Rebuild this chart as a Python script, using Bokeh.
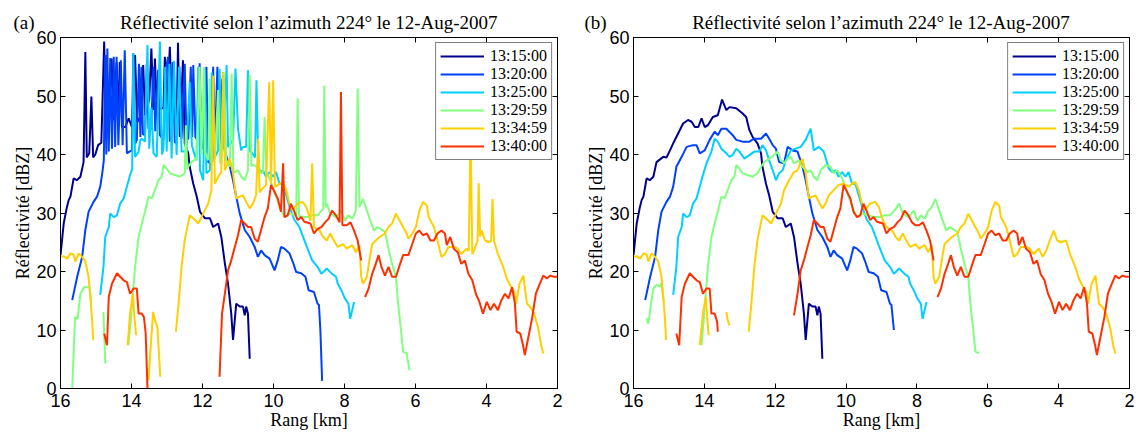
import math
from bokeh.plotting import figure
from bokeh.models import Range1d, LinearAxis, Legend, LegendItem, FixedTicker, ColumnDataSource
from bokeh.layouts import row
from bokeh.embed import file_html
from bokeh.resources import INLINE

TIMES = ["13:15:00", "13:20:00", "13:25:00", "13:29:59", "13:34:59", "13:40:00"]
COLORS = ["#00008F", "#0040FF", "#00CFFF", "#80FF80", "#FFCF00", "#FF3000"]
X_TICKS = [16, 14, 12, 10, 8, 6, 4, 2]
Y_TICKS = [0, 10, 20, 30, 40, 50, 60]
TITLE = "Réflectivité selon l’azimuth 224° le 12-Aug-2007"
TAGS = ["(a)", "(b)"]
X_LABEL = "Rang [km]"
Y_LABEL = "Réflectivité [dBZ]"

# ---------------- panel (b): filtered profiles (range km, dBZ); None = gap ----------------
B_1315 = [(16.00,22.8),(15.91,28.2),(15.82,31.0),(15.77,32.2),(15.72,32.8),(15.63,35.9),(15.54,35.6),(15.44,36.2),(15.35,38.7),(15.16,39.6),(15.07,39.5),(14.97,40.7),(14.88,41.9),(14.79,43.0),(14.60,45.3),(14.46,45.9),(14.36,45.6),(14.27,44.7),(14.17,44.7),(14.08,46.2),(13.99,44.7),(13.90,45.0),(13.76,46.4),(13.62,46.7),(13.50,49.4),(13.38,47.6),(13.29,48.1),(13.10,47.9),(12.92,47.0),(12.82,46.4),(12.73,44.2),(12.64,43.0),(12.50,41.9),(12.40,40.2),(12.36,37.9),(12.26,35.0),(12.17,33.0),(12.07,30.2),(11.93,29.1),(11.79,29.1),(11.70,27.6),(11.56,28.2),(11.47,25.9),(11.37,21.4),(11.28,17.9),(11.19,12.8),(11.14,8.3),(11.05,14.5),(10.95,14.0),(10.86,14.0),(10.81,12.5),(10.77,14.0),(10.72,12.8),(10.67,5.1)]
B_1320 = [(15.67,15.1),(15.53,19.1),(15.39,22.5),(15.30,27.1),(15.21,30.2),(15.07,31.9),(14.97,32.8),(14.88,34.5),(14.79,37.9),(14.64,39.6),(14.50,41.3),(14.32,41.6),(14.22,41.6),(14.13,40.2),(13.99,40.7),(13.85,42.5),(13.71,43.9),(13.62,43.3),(13.52,44.4),(13.38,44.4),(13.20,43.3),(13.10,42.5),(12.92,42.2),(12.73,42.2),(12.59,42.7),(12.40,42.7),(12.26,43.6),(12.17,42.7),(12.07,41.6),(11.98,41.0),(11.89,38.7),(11.75,38.5),(11.65,41.3),(11.51,40.7),(11.37,40.5),(11.23,37.9),(11.14,35.6),(11.05,32.8),(10.95,29.9),(10.81,27.1),(10.67,25.9),(10.53,24.2),(10.44,22.5),(10.35,23.6),(10.25,22.8),(10.11,22.2),(9.97,20.2),(9.88,21.9),(9.79,24.2),(9.69,23.9),(9.55,23.1),(9.46,21.7),(9.36,19.9),(9.22,19.7),(9.10,19.1),(9.01,16.8),(8.86,16.5),(8.76,14.5),(8.72,14.3),(8.65,10.0)]
B_1325 = [(14.88,16.0),(14.79,20.8),(14.74,25.9),(14.64,27.6),(14.60,29.9),(14.55,29.6),(14.50,29.3),(14.41,29.6),(14.32,31.6),(14.22,32.5),(14.13,34.5),(14.04,36.5),(13.94,38.5),(13.80,40.5),(13.71,42.7),(13.62,42.2),(13.52,41.0),(13.38,40.2),(13.29,39.6),(13.20,39.9),(13.10,41.0),(13.01,40.5),(12.87,39.3),(12.73,39.9),(12.59,40.5),(12.45,40.5),(12.36,41.6),(12.26,40.7),(12.17,39.0),(12.07,37.3),(11.98,35.6),(11.89,36.8),(11.79,37.3),(11.70,39.0),(11.56,40.7),(11.42,41.0),(11.28,41.3),(11.14,42.5),(11.00,44.4),(10.91,40.7),(10.77,41.3),(10.63,40.5),(10.49,37.6),(10.39,37.0),(10.30,37.3),(10.21,36.2),(10.11,37.0),(10.02,36.2),(9.93,37.0),(9.83,35.0),(9.74,35.0),(9.64,33.0),(9.55,31.1),(9.41,28.8),(9.27,27.6),(9.08,24.5),(8.91,21.9),(8.76,20.8),(8.65,19.6),(8.50,20.5),(8.35,19.6),(8.24,19.1),(8.19,17.9),(8.09,16.8),(7.99,15.4),(7.89,14.5),(7.84,11.9),(7.73,14.8)]
B_1330 = [(15.63,12.0),(15.58,11.1),(15.49,15.1),(15.44,17.1),(15.35,17.7),(15.25,17.4),(15.21,18.0),(15.15,15.0),None,
          (14.08,7.4),(14.02,11.7),(13.96,16.2),(13.90,20.8),(13.80,25.9),(13.71,28.2),(13.62,30.2),(13.52,32.8),(13.43,32.5),(13.34,33.9),(13.24,35.6),(13.15,36.2),(13.10,38.2),(13.01,37.6),(12.92,36.8),(12.78,36.5),(12.64,36.2),(12.50,36.8),(12.40,37.9),(12.31,38.7),(12.17,39.3),(12.03,39.9),(11.93,40.5),(11.84,39.0),(11.75,38.5),(11.65,39.3),(11.56,39.6),(11.47,38.5),(11.33,39.0),(11.23,37.9),(11.09,37.0),(11.00,37.3),(10.91,36.2),(10.81,35.6),(10.72,37.3),(10.58,38.2),(10.44,37.9),(10.35,36.8),(10.25,37.3),(10.11,35.9),(10.02,34.5),(9.93,32.8),(9.79,30.5),(9.69,29.3),(9.55,29.9),(9.36,29.6),(9.18,29.3),(9.06,29.3),(8.91,29.6),(8.76,29.6),(8.60,30.7),(8.50,31.6),(8.40,29.9),(8.24,29.3),(8.09,30.4),(7.99,28.7),(7.89,29.6),(7.78,29.0),(7.68,30.4),(7.58,31.0),(7.48,32.4),(7.37,30.4),(7.27,28.7),(7.17,27.0),(7.07,27.6),(6.91,27.0),(6.86,26.8),(6.76,23.9),(6.66,21.3),(6.55,19.1),(6.50,15.1),(6.40,9.4),(6.35,6.3),(6.25,6.0)]
B_1335 = [(16.00,22.5),(15.91,22.6),(15.81,22.2),(15.72,23.1),(15.63,22.9),(15.58,21.7),(15.49,23.1),(15.39,22.5),(15.30,21.7),(15.21,19.1),(15.16,15.7),(15.11,11.7),(15.08,8.3),None,
          (14.13,7.4),(14.04,12.8),(13.96,15.7),(13.92,12.3),(13.88,9.1),None,
          (13.38,13.1),(13.34,11.7),(13.29,10.8),None,
          (12.75,9.7),(12.68,14.0),(12.59,20.8),(12.50,25.4),(12.36,29.6),(12.21,28.8),(12.12,28.2),(11.98,29.9),(11.84,31.6),(11.75,33.9),(11.61,35.6),(11.47,37.0),(11.37,37.3),(11.28,38.7),(11.23,39.3),(11.14,36.8),(11.05,32.5),(10.95,32.8),(10.86,33.0),(10.77,31.9),(10.67,30.8),(10.58,31.6),(10.49,33.0),(10.35,33.9),(10.21,34.8),(10.07,35.0),(9.93,34.5),(9.83,35.0),(9.74,35.3),(9.64,33.9),(9.55,31.6),(9.46,30.5),(9.32,31.6),(9.18,31.9),(9.08,31.1),(8.96,28.7),(8.86,27.6),(8.70,27.0),(8.60,25.9),(8.50,25.3),(8.40,26.5),(8.30,25.3),(8.19,24.2),(8.04,24.7),(7.94,23.9),(7.78,24.5),(7.68,23.3),(7.58,24.5),(7.53,19.1),(7.48,17.9),(7.37,19.1),(7.27,23.0),(7.22,24.7),(7.12,25.3),(7.01,25.9),(6.86,26.5),(6.76,27.6),(6.66,28.2),(6.55,29.9),(6.45,28.7),(6.35,27.6),(6.25,26.5),(6.20,25.6),(6.09,26.5),(5.99,27.6),(5.89,30.4),(5.79,31.9),(5.68,31.3),(5.63,29.3),(5.48,27.6),(5.38,25.3),(5.27,22.5),(5.17,23.0),(5.07,24.2),(4.92,24.2),(4.81,23.9),(4.71,23.0),(4.56,23.9),(4.45,22.5),(4.35,23.6),(4.25,25.3),(4.14,27.0),(4.04,25.3),(3.94,25.0),(3.79,25.3),(3.68,23.0),(3.53,20.8),(3.43,18.8),(3.33,17.6),(3.22,16.5),(3.17,14.5),(3.07,17.9),(2.96,19.3),(2.91,16.8),(2.86,14.5),(2.76,13.9),(2.66,12.8),(2.55,10.5),(2.45,7.1),(2.40,6.0)]
B_1340 = [(14.79,9.4),(14.71,7.4),(14.64,15.7),(14.55,17.9),(14.41,19.7),(14.32,19.1),(14.22,18.5),(14.13,18.2),(14.04,16.2),(13.94,17.1),(13.85,17.1),(13.80,12.8),(13.71,12.8),(13.64,11.4),(13.62,9.7),None,
          (11.47,12.5),(11.37,16.2),(11.28,20.2),(11.19,21.9),(11.09,24.2),(11.00,26.2),(10.91,28.8),(10.81,28.2),(10.72,27.6),(10.63,27.6),(10.53,25.6),(10.44,25.1),(10.35,27.1),(10.25,29.3),(10.16,30.8),(10.07,34.8),(9.97,33.6),(9.88,32.5),(9.79,30.2),(9.69,29.3),(9.60,29.6),(9.51,31.6),(9.41,30.2),(9.32,28.8),(9.22,29.3),(9.13,28.5),(8.96,28.2),(8.86,26.5),(8.76,27.3),(8.65,27.6),(8.55,28.4),(8.45,29.0),(8.35,30.4),(8.24,29.6),(8.14,28.4),(8.04,27.9),(7.94,27.9),(7.83,28.4),(7.73,27.0),(7.63,25.3),(7.53,21.9),None,
          (7.42,15.6),(7.32,17.1),(7.22,19.6),(7.12,21.3),(7.04,22.8),(6.96,20.8),(6.86,19.3),(6.76,20.8),(6.66,19.1),(6.55,19.1),(6.45,21.0),(6.35,22.8),(6.20,22.8),(6.09,24.7),(5.99,26.5),(5.89,27.0),(5.79,26.2),(5.68,26.5),(5.58,25.3),(5.48,25.3),(5.38,26.5),(5.27,27.0),(5.17,26.5),(5.12,24.5),(5.02,25.9),(4.92,23.9),(4.81,23.3),(4.71,21.3),(4.61,21.9),(4.51,19.6),(4.40,18.5),(4.30,16.2),(4.20,14.8),(4.10,12.8),(3.99,14.8),(3.89,13.4),(3.79,14.5),(3.68,13.4),(3.58,15.1),(3.48,16.2),(3.38,15.4),(3.28,17.3),(3.20,14.5),(3.15,9.7),(3.05,9.4),(2.97,7.4),(2.92,5.7),(2.82,8.8),(2.71,12.2),(2.61,16.2),(2.50,17.9),(2.40,19.3),(2.30,18.8),(2.20,19.3),(2.10,19.1),(2.00,19.1)]

# ---------------- panel (a): raw profiles with spikes ----------------
A_1315 = [(16.00,22.8),(15.91,28.2),(15.82,31.0),(15.77,32.2),(15.72,32.8),(15.63,35.9),(15.54,35.6),(15.44,36.2),(15.35,38.7),(15.30,57.5),(15.26,39.5),(15.19,40.2),(15.13,49.9),(15.08,39.5),(15.02,40.0),(14.94,41.6),(14.85,42.0),(14.77,59.3),(14.72,44.0),(14.64,45.0),(14.56,56.4),(14.50,45.9),(14.42,55.8),(14.38,45.6),(14.33,55.8),(14.27,44.7),(14.17,44.7),(14.08,46.2),(13.99,44.7),(13.90,57.0),(13.84,45.5),(13.76,46.4),(13.67,55.3),(13.62,46.7),(13.50,49.4),(13.44,58.1),(13.38,47.6),(13.34,56.4),(13.29,48.1),(13.20,47.9),(13.10,47.9),(13.06,56.7),(13.00,47.5),(12.92,58.4),(12.86,46.8),(12.80,46.0),(12.73,44.2),(12.69,59.1),(12.64,43.0),(12.55,56.1),(12.50,41.9),(12.40,40.2),(12.36,37.9),(12.26,35.0),(12.17,33.0),(12.07,30.2),(11.93,29.1),(11.79,29.1),(11.70,27.6),(11.56,28.2),(11.47,25.9),(11.37,21.4),(11.28,17.9),(11.19,12.8),(11.14,8.3),(11.05,14.5),(10.95,14.0),(10.86,14.0),(10.81,12.5),(10.77,14.0),(10.72,12.8),(10.67,5.1)]
A_1320 = [(15.67,15.1),(15.53,19.1),(15.39,22.5),(15.30,27.1),(15.21,30.2),(15.07,31.9),(14.97,32.8),(14.88,34.5),(14.82,37.0),(14.78,39.0),(14.74,57.0),(14.71,40.0),(14.68,58.1),(14.64,40.5),(14.60,56.5),(14.55,41.0),(14.50,56.7),(14.46,41.3),(14.42,56.7),(14.37,41.6),(14.30,56.1),(14.25,41.6),(14.19,57.8),(14.13,40.2),(14.06,40.5),(13.99,40.7),(13.95,57.3),(13.90,41.8),(13.85,42.5),(13.79,55.5),(13.75,43.0),(13.72,55.0),(13.68,43.5),(13.62,43.3),(13.57,55.5),(13.52,44.4),(13.45,44.4),(13.38,55.0),(13.33,44.0),(13.25,54.5),(13.20,43.3),(13.10,42.5),(13.02,55.0),(12.97,56.7),(12.92,42.2),(12.84,55.8),(12.78,42.0),(12.73,42.2),(12.65,55.0),(12.59,42.7),(12.50,55.5),(12.45,42.5),(12.40,42.7),(12.33,55.0),(12.29,43.0),(12.26,55.3),(12.20,43.0),(12.17,42.7),(12.08,55.6),(12.03,41.5),(11.98,41.0),(11.89,55.0),(11.84,38.7),(11.75,38.5),(11.70,55.0),(11.65,41.3),(11.58,55.0),(11.51,40.7),(11.44,53.0),(11.37,40.5),(11.23,37.9),(11.14,35.6),(11.05,32.8),(10.95,29.9),(10.81,27.1),(10.67,25.9),(10.53,24.2),(10.44,22.5),(10.35,23.6),(10.25,22.8),(10.11,22.2),(9.97,20.2),(9.88,21.9),(9.79,24.2),(9.69,23.9),(9.55,23.1),(9.46,21.7),(9.36,19.9),(9.22,19.7),(9.10,19.1),(9.01,16.8),(8.86,16.5),(8.76,14.5),(8.72,14.3),(8.68,10.0),(8.63,1.3)]
A_1325 = [(14.88,16.0),(14.79,20.8),(14.74,25.9),(14.64,27.6),(14.60,29.9),(14.55,29.6),(14.50,29.3),(14.41,29.6),(14.32,31.6),(14.22,32.5),(14.13,34.5),(14.04,36.5),(13.98,37.5),(13.95,57.3),(13.90,39.6),(13.80,40.5),(13.75,42.5),(13.71,42.7),(13.62,42.2),(13.55,58.7),(13.50,41.0),(13.44,48.0),(13.38,40.2),(13.29,39.6),(13.20,59.3),(13.14,40.0),(13.10,41.0),(13.05,55.0),(13.01,40.5),(12.93,55.5),(12.87,39.3),(12.80,56.0),(12.73,39.9),(12.66,55.0),(12.59,40.5),(12.45,40.5),(12.36,52.4),(12.30,41.6),(12.26,40.7),(12.17,39.0),(12.12,55.0),(12.07,37.3),(11.98,35.6),(11.93,54.5),(11.89,36.8),(11.79,37.3),(11.74,54.0),(11.70,39.0),(11.56,40.7),(11.52,54.6),(11.46,41.0),(11.42,41.0),(11.32,55.3),(11.28,41.3),(11.14,42.5),(11.07,54.7),(11.00,44.4),(10.91,40.7),(10.86,41.3),(10.77,41.3),(10.72,54.4),(10.66,40.5),(10.63,40.5),(10.52,39.5),(10.48,52.7),(10.43,39.6),(10.39,37.0),(10.30,37.3),(10.21,36.2),(10.11,37.0),(10.02,36.2),(9.93,37.0),(9.83,35.0),(9.74,35.0),(9.64,33.0),(9.55,31.1),(9.41,28.8),(9.27,27.6),(9.08,24.5),(8.91,21.9),(8.76,20.8),(8.65,19.6),(8.50,20.5),(8.35,19.6),(8.24,19.1),(8.19,17.9),(8.09,16.8),(7.99,15.4),(7.89,14.5),(7.84,11.9),(7.73,14.8)]
A_1330 = [(15.67,0.0),(15.59,12.2),(15.52,11.9),(15.44,16.2),(15.34,17.3),(15.25,17.3),(15.18,17.3),(15.13,14.8),None,
          (14.79,13.1),(14.74,4.3),None,
          (14.09,7.4),(14.02,11.7),(13.96,16.2),(13.90,20.8),(13.80,25.9),(13.71,28.2),(13.62,30.2),(13.52,32.8),(13.43,32.5),(13.34,33.9),(13.24,35.6),(13.15,36.2),(13.10,38.2),(13.01,37.6),(12.92,36.8),(12.78,36.5),(12.64,36.2),(12.50,36.8),(12.47,45.0),(12.43,37.5),(12.40,37.9),(12.31,38.7),(12.17,39.3),(12.08,55.0),(12.03,39.9),(11.96,55.0),(11.93,40.5),(11.84,39.0),(11.80,53.0),(11.75,38.5),(11.65,39.3),(11.56,51.0),(11.50,38.5),(11.47,38.5),(11.40,54.0),(11.33,39.0),(11.23,37.9),(11.18,53.8),(11.13,37.0),(11.09,37.0),(11.00,37.3),(10.91,36.2),(10.81,35.6),(10.72,37.3),(10.67,53.6),(10.62,38.0),(10.58,38.2),(10.44,37.9),(10.35,36.8),(10.30,37.0),(10.25,46.4),(10.20,37.0),(10.11,35.9),(10.02,34.5),(9.93,32.8),(9.79,30.5),(9.69,29.3),(9.55,29.9),(9.36,29.6),(9.32,49.6),(9.28,29.5),(9.18,29.3),(9.06,29.3),(8.91,29.6),(8.76,29.6),(8.60,30.7),(8.57,51.8),(8.53,31.0),(8.50,31.6),(8.40,29.9),(8.24,29.3),(8.09,30.4),(7.99,28.7),(7.89,29.6),(7.78,29.0),(7.68,30.4),(7.63,51.3),(7.58,31.0),(7.48,32.4),(7.37,30.4),(7.27,28.7),(7.17,27.0),(7.07,27.6),(6.91,27.0),(6.86,26.8),(6.76,23.9),(6.66,21.3),(6.55,19.1),(6.50,15.1),(6.40,9.4),(6.35,6.3),(6.25,6.0),(6.17,3.1)]
A_1335 = [(16.00,22.5),(15.91,22.6),(15.81,22.2),(15.72,23.1),(15.63,22.9),(15.58,21.7),(15.49,23.1),(15.39,22.5),(15.30,21.7),(15.21,19.1),(15.16,15.7),(15.11,11.7),(15.08,8.3),None,
          (14.11,7.4),(14.04,12.8),(13.96,16.2),(13.92,12.3),(13.87,9.1),None,
          (13.52,1.4),(13.45,8.0),(13.39,13.1),(13.33,11.5),(13.27,10.5),(13.19,2.0),None,
          (12.75,9.7),(12.68,14.0),(12.59,20.8),(12.50,25.4),(12.36,29.6),(12.21,28.8),(12.12,28.2),(11.98,29.9),(11.84,31.6),(11.75,33.9),(11.70,53.5),(11.65,35.0),(11.61,35.6),(11.47,37.0),(11.42,54.1),(11.37,37.3),(11.28,38.7),(11.23,39.3),(11.14,36.8),(11.05,32.5),(10.95,32.8),(10.86,33.0),(10.77,31.9),(10.67,30.8),(10.58,31.6),(10.49,33.0),(10.43,42.7),(10.39,33.5),(10.35,33.9),(10.21,34.8),(10.12,52.4),(10.07,35.0),(10.01,52.7),(9.96,34.6),(9.93,34.5),(9.83,35.0),(9.74,35.3),(9.64,33.9),(9.55,31.6),(9.46,30.5),(9.32,31.6),(9.18,31.9),(9.08,31.1),(8.96,28.7),(8.91,38.5),(8.86,27.6),(8.70,27.0),(8.60,25.9),(8.50,25.3),(8.40,26.5),(8.30,25.3),(8.19,24.2),(8.04,24.7),(7.94,23.9),(7.78,24.5),(7.68,23.3),(7.58,24.5),(7.53,19.1),(7.48,17.9),(7.37,19.1),(7.27,23.0),(7.22,24.7),(7.12,25.3),(7.01,25.9),(6.86,26.5),(6.76,27.6),(6.66,28.2),(6.55,29.9),(6.45,28.7),(6.35,27.6),(6.25,26.5),(6.20,25.6),(6.09,26.5),(5.99,27.6),(5.89,30.4),(5.79,31.9),(5.68,31.3),(5.63,29.3),(5.48,27.6),(5.38,25.3),(5.27,22.5),(5.17,23.0),(5.07,24.2),(4.92,24.2),(4.81,23.9),(4.71,23.0),(4.56,23.9),(4.50,23.5),(4.45,44.1),(4.40,23.0),(4.35,23.6),(4.25,25.3),(4.22,35.1),(4.18,26.0),(4.14,27.0),(4.04,25.3),(3.94,25.0),(3.87,25.2),(3.83,32.4),(3.79,25.3),(3.68,23.0),(3.53,20.8),(3.43,18.8),(3.33,17.6),(3.22,16.5),(3.17,14.5),(3.07,17.9),(2.96,19.3),(2.91,16.8),(2.86,14.5),(2.76,13.9),(2.66,12.8),(2.55,10.5),(2.45,7.1),(2.40,6.0)]
A_1340 = [(14.77,9.4),(14.69,7.4),(14.64,15.7),(14.55,17.9),(14.41,19.7),(14.32,19.1),(14.22,18.5),(14.13,18.2),(14.04,16.2),(13.94,17.1),(13.85,17.1),(13.80,12.8),(13.71,12.8),(13.65,12.2),(13.60,9.4),(13.55,0.0),None,
          (11.52,2.0),(11.45,12.8),(11.37,16.2),(11.28,20.2),(11.19,21.9),(11.09,24.2),(11.00,26.2),(10.91,28.8),(10.81,28.2),(10.72,27.6),(10.63,27.6),(10.53,25.6),(10.44,25.1),(10.35,27.1),(10.25,29.3),(10.16,30.8),(10.07,34.8),(9.97,33.6),(9.88,32.5),(9.79,30.2),(9.73,38.5),(9.69,29.3),(9.60,29.6),(9.51,31.6),(9.41,30.2),(9.32,28.8),(9.22,29.3),(9.13,28.5),(8.96,28.2),(8.86,26.5),(8.76,27.3),(8.65,27.6),(8.55,28.4),(8.45,29.0),(8.35,30.4),(8.24,29.6),(8.14,28.4),(8.10,50.7),(8.06,28.0),(8.04,27.9),(7.94,27.9),(7.83,28.4),(7.73,27.0),(7.63,25.3),(7.53,21.9),None,
          (7.42,15.6),(7.32,17.1),(7.22,19.6),(7.12,21.3),(7.04,22.8),(6.96,20.8),(6.86,19.3),(6.76,20.8),(6.66,19.1),(6.55,19.1),(6.45,21.0),(6.35,22.8),(6.20,22.8),(6.09,24.7),(5.99,26.5),(5.89,27.0),(5.79,26.2),(5.68,26.5),(5.58,25.3),(5.48,25.3),(5.38,26.5),(5.27,27.0),(5.17,26.5),(5.12,24.5),(5.02,25.9),(4.92,23.9),(4.81,23.3),(4.71,21.3),(4.61,21.9),(4.51,19.6),(4.40,18.5),(4.30,16.2),(4.20,14.8),(4.10,12.8),(3.99,14.8),(3.89,13.4),(3.79,14.5),(3.68,13.4),(3.58,15.1),(3.48,16.2),(3.38,15.4),(3.28,17.3),(3.20,14.5),(3.15,9.7),(3.05,9.4),(2.97,7.4),(2.92,5.7),(2.82,8.8),(2.71,12.2),(2.61,16.2),(2.50,17.9),(2.40,19.3),(2.30,18.8),(2.20,19.3),(2.10,19.1),(2.00,19.1)]

PANEL_A = [A_1315, A_1320, A_1325, A_1330, A_1335, A_1340]
PANEL_B = [B_1315, B_1320, B_1325, B_1330, B_1335, B_1340]

SERIF = "Liberation Serif"
SANS = "Liberation Sans"
GAP = "\u00a0" * 18


def to_xy(points):
    xs, ys = [], []
    for p in points:
        if p is None:
            xs.append(float("nan"))
            ys.append(float("nan"))
        else:
            xs.append(p[0])
            ys.append(p[1])
    return xs, ys


def make_panel(series, tag, width, left, right, tag_offset):
    p = figure(width=width, height=434, output_backend="svg", toolbar_location=None,
               x_range=Range1d(16, 2), y_range=Range1d(0, 60),
               min_border_left=left, min_border_right=right,
               min_border_top=37, min_border_bottom=46,
               title=tag + GAP + TITLE)
    p.title.align = "left"
    p.title.offset = tag_offset
    p.title.text_font = SERIF
    p.title.text_font_size = "19px"
    p.title.text_font_style = "normal"
    p.title.text_color = "black"
    p.title.standoff = 10
    p.xgrid.visible = False
    p.ygrid.visible = False
    p.outline_line_color = "black"
    p.outline_line_alpha = 1.0
    p.background_fill_color = "white"
    p.border_fill_color = "white"

    p.xaxis.ticker = FixedTicker(ticks=X_TICKS)
    p.yaxis.ticker = FixedTicker(ticks=Y_TICKS)
    for ax in (p.xaxis[0], p.yaxis[0]):
        ax.major_tick_in = 5
        ax.major_tick_out = 0
        ax.minor_tick_line_color = None
        ax.axis_line_color = "black"
        ax.major_tick_line_color = "black"
        ax.major_label_text_font = SANS
        ax.major_label_text_font_size = "18px"
        ax.major_label_text_color = "black"
        ax.axis_label_text_font = SERIF
        ax.axis_label_text_font_size = "18px"
        ax.axis_label_text_font_style = "normal"
        ax.axis_label_text_color = "black"
        ax.axis_label_standoff = 0
    p.xaxis.axis_label = X_LABEL
    p.yaxis.axis_label = Y_LABEL
    p.xaxis.major_label_standoff = 5
    p.yaxis.major_label_standoff = 4

    for loc, ticks in (("right", Y_TICKS), ("above", X_TICKS)):
        ax = LinearAxis(ticker=FixedTicker(ticks=ticks), major_tick_in=5, major_tick_out=0,
                        minor_tick_line_color=None, major_label_standoff=0,
                        major_label_text_font_size="0px",
                        major_label_overrides={t: "" for t in ticks})
        p.add_layout(ax, loc)

    items = []
    for pts, name, col in zip(series, TIMES, COLORS):
        xs, ys = to_xy(pts)
        src = ColumnDataSource(dict(x=xs, y=ys))
        r = p.line("x", "y", source=src, line_color=col, line_width=2)
        items.append(LegendItem(label=name, renderers=[r]))

    leg = Legend(items=items, location="top_right", border_line_color="black", border_line_width=1,
                 background_fill_color="white", background_fill_alpha=1.0,
                 label_text_font=SERIF, label_text_font_size="16px", label_text_color="black",
                 label_height=12, glyph_height=12, glyph_width=44, spacing=0,
                 padding=4, margin=5, label_standoff=6)
    p.add_layout(leg, "center")
    return p


pa = make_panel(PANEL_A, TAGS[0], 573, 60, 16, -47)
pb = make_panel(PANEL_B, TAGS[1], 564, 60, 8, -49)
layout = row(pa, pb)
open("out.html", "w").write(file_html(layout, INLINE))
